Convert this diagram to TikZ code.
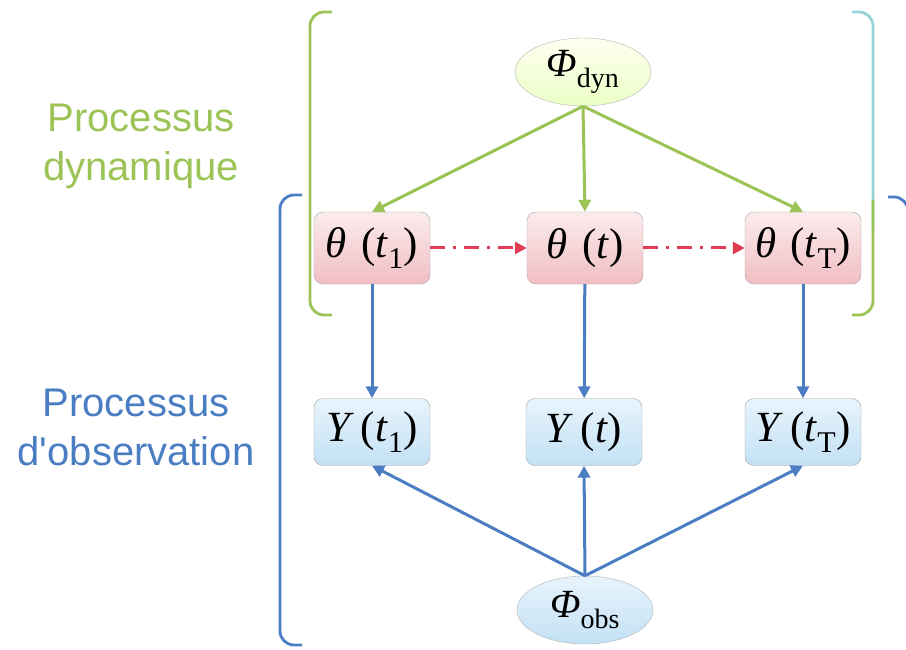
\documentclass[tikz,border=0pt]{standalone}
\usepackage{amsmath}
\usepackage{fontspec}
\newfontfamily\etiquette{Liberation Sans}
\newfontfamily\timesf{Liberation Serif}
\usetikzlibrary{shapes.geometric, arrows.meta}
\definecolor{dyngreen}{RGB}{155,195,85}
\definecolor{obsblue}{RGB}{75,125,195}
\definecolor{linkred}{RGB}{225,60,85}
\definecolor{brcyan}{RGB}{150,210,215}
\definecolor{rosehaut}{RGB}{252,236,236}
\definecolor{rosebas}{RGB}{240,190,195}
\definecolor{bleuhaut}{RGB}{232,244,252}
\definecolor{bleubas}{RGB}{195,225,245}
\newcommand{\va}[1]{\textit{#1}}
\newcommand{\ind}[1]{\textsubscript{#1}}

\begin{document}
\begin{tikzpicture}[x=1pt,y=-1pt,
  etat/.style={rectangle,rounded corners=9pt,draw=gray!70,minimum width=116pt,minimum height=72pt,
    top color=rosehaut,bottom color=rosebas,font=\timesf\fontsize{43}{48}\selectfont},
  mesure/.style={rectangle,rounded corners=9pt,draw=gray!70,minimum width=116pt,minimum height=67pt,
    top color=bleuhaut,bottom color=bleubas,font=\timesf\fontsize{43}{48}\selectfont},
  param/.style={ellipse,draw=gray!60,minimum width=136pt,minimum height=68pt,inner sep=0pt,
    font=\timesf\fontsize{40}{44}\selectfont},
  fleche/.style={-{Triangle[length=12pt,width=12pt]},line width=3pt},
  crochet/.style={line width=2.8pt,rounded corners=14pt},
  titre/.style={font=\etiquette\fontsize{40}{49}\selectfont,align=center}]

\useasboundingbox (0,0) rectangle (906,650);

% brackets
\draw[crochet,dyngreen] (332,12)--(310,12)--(310,315)--(332,315);
\draw[crochet,brcyan] (852,12)--(873,12)--(873,230);
\draw[crochet,dyngreen] (873,200)--(873,315)--(852,315);
\draw[crochet,obsblue] (302,195)--(280,195)--(280,645)--(302,645);
\draw[crochet,obsblue] (888,197)--(908,197)--(908,660);

\node[titre,text=dyngreen] (tdyn) at (141,146) {Processus\\dynamique};
\node[titre,text=obsblue] (tobs) at (136,427) {Processus\\d'observation};

\node[param,top color=green!8!yellow!6,bottom color=green!35!yellow!22] (pdyn) at (583,72) {\va{Φ}\ind{dyn}};
\node[param,top color=bleuhaut,bottom color=bleubas] (pobs) at (585,610) {\va{Φ}\ind{obs}};

\node[etat] (th1) at (372,248) {\va{θ}\,\,(\va{t}\ind{1})};
\node[etat] (th) at (585,248) {\va{θ}\,\,(\va{t})};
\node[etat] (thT) at (803,248) {\va{θ}\,\,(\va{t}\ind{T})};

\node[mesure] (y1) at (372,432) {\va{Y}\,(\va{t}\ind{1})};
\node[mesure] (y) at (584,432) {\va{Y}\,(\va{t})};
\node[mesure] (yT) at (803,432) {\va{Y}\,(\va{t}\ind{T})};

\draw[fleche,dyngreen] (pdyn.south) -- (th1.north);
\draw[fleche,dyngreen] (pdyn.south) -- (th.north);
\draw[fleche,dyngreen] (pdyn.south) -- (thT.north);

\draw[fleche,linkred,dash pattern=on 15pt off 8pt on 3pt off 8pt] (th1) -- (th);
\draw[fleche,linkred,dash pattern=on 15pt off 8pt on 3pt off 8pt] (th) -- (thT);

\draw[fleche,obsblue] (th1) -- (y1);
\draw[fleche,obsblue] (th) -- (y);
\draw[fleche,obsblue] (thT) -- (yT);

\draw[fleche,obsblue] (pobs.north) -- (y1.south);
\draw[fleche,obsblue] (pobs.north) -- (y.south);
\draw[fleche,obsblue] (pobs.north) -- (yT.south);

\end{tikzpicture}
\end{document}
